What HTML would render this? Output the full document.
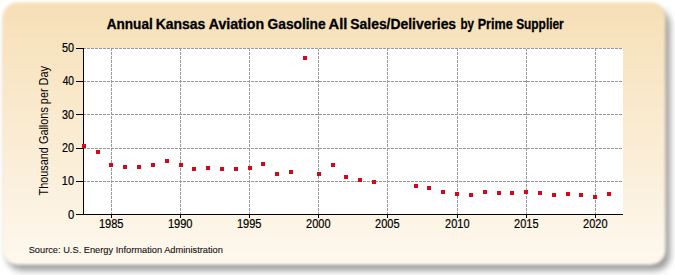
<!DOCTYPE html>
<html><head><meta charset="utf-8"><style>
html,body{margin:0;padding:0;background:#fff;width:675px;height:275px;overflow:hidden}
svg{display:block}
text{font-family:"Liberation Sans",sans-serif}
</style></head><body>
<svg width="675" height="275" viewBox="0 0 675 275">
<defs>
<linearGradient id="bg" x1="0" y1="0" x2="0" y2="1">
<stop offset="0" stop-color="#f6dfb6"/>
<stop offset="1" stop-color="#fef8ee"/>
</linearGradient>
<filter id="sh" x="-10%" y="-10%" width="120%" height="130%"><feGaussianBlur stdDeviation="3.5"/></filter>
<filter id="pb" x="-10%" y="-10%" width="120%" height="130%"><feGaussianBlur stdDeviation="1.8"/></filter>
</defs>
<rect x="7" y="9.5" width="663" height="261" rx="15" fill="#999" filter="url(#sh)"/>
<rect x="2.5" y="2.5" width="663" height="262.2" rx="15" fill="url(#bg)" filter="url(#pb)"/>
<rect x="83" y="48" width="540" height="166" fill="#fff"/>
<path d="M111.5 49V214 M180.5 49V214 M249.5 49V214 M318.5 49V214 M387.5 49V214 M457.5 49V214 M526.5 49V214 M595.5 49V214 M84 48.5H623 M84 81.5H623 M84 114.5H623 M84 148.5H623 M84 181.5H623" stroke="#999999" stroke-width="1" stroke-dasharray="3 1" stroke-dashoffset="1" fill="none"/>
<path d="M83.5 48V215 M83 214.5H623 M76 48.5H83 M76 81.5H83 M76 114.5H83 M76 148.5H83 M76 181.5H83 M76 214.5H83 M111.5 215V218 M180.5 215V218 M249.5 215V218 M318.5 215V218 M387.5 215V218 M457.5 215V218 M526.5 215V218 M595.5 215V218" stroke="#000" stroke-width="1" fill="none"/>
<rect x="82" y="144" width="4" height="4" fill="#d8061a"/>
<rect x="96" y="150" width="4" height="4" fill="#d8061a"/>
<rect x="109" y="163" width="4" height="4" fill="#d8061a"/>
<rect x="123" y="165" width="4" height="4" fill="#d8061a"/>
<rect x="137" y="165" width="4" height="4" fill="#d8061a"/>
<rect x="151" y="163" width="4" height="4" fill="#d8061a"/>
<rect x="165" y="159" width="4" height="4" fill="#d8061a"/>
<rect x="179" y="163" width="4" height="4" fill="#d8061a"/>
<rect x="192" y="167" width="4" height="4" fill="#d8061a"/>
<rect x="206" y="166" width="4" height="4" fill="#d8061a"/>
<rect x="220" y="167" width="4" height="4" fill="#d8061a"/>
<rect x="234" y="167" width="4" height="4" fill="#d8061a"/>
<rect x="248" y="166" width="4" height="4" fill="#d8061a"/>
<rect x="261" y="162" width="4" height="4" fill="#d8061a"/>
<rect x="275" y="172" width="4" height="4" fill="#d8061a"/>
<rect x="289" y="170" width="4" height="4" fill="#d8061a"/>
<rect x="303" y="56" width="4" height="4" fill="#d8061a"/>
<rect x="317" y="172" width="4" height="4" fill="#d8061a"/>
<rect x="331" y="163" width="4" height="4" fill="#d8061a"/>
<rect x="344" y="175" width="4" height="4" fill="#d8061a"/>
<rect x="358" y="178" width="4" height="4" fill="#d8061a"/>
<rect x="372" y="180" width="4" height="4" fill="#d8061a"/>
<rect x="414" y="184" width="4" height="4" fill="#d8061a"/>
<rect x="427" y="186" width="4" height="4" fill="#d8061a"/>
<rect x="441" y="190" width="4" height="4" fill="#d8061a"/>
<rect x="455" y="192" width="4" height="4" fill="#d8061a"/>
<rect x="469" y="193" width="4" height="4" fill="#d8061a"/>
<rect x="483" y="190" width="4" height="4" fill="#d8061a"/>
<rect x="497" y="191" width="4" height="4" fill="#d8061a"/>
<rect x="510" y="191" width="4" height="4" fill="#d8061a"/>
<rect x="524" y="190" width="4" height="4" fill="#d8061a"/>
<rect x="538" y="191" width="4" height="4" fill="#d8061a"/>
<rect x="552" y="193" width="4" height="4" fill="#d8061a"/>
<rect x="566" y="192" width="4" height="4" fill="#d8061a"/>
<rect x="579" y="193" width="4" height="4" fill="#d8061a"/>
<rect x="593" y="195" width="4" height="4" fill="#d8061a"/>
<rect x="607" y="192" width="4" height="4" fill="#d8061a"/>
<text x="61.94" y="52" textLength="12.06" lengthAdjust="spacingAndGlyphs" style="font-size:12px;font-weight:normal;fill:#000;stroke:#000;stroke-width:0.2px">50</text>
<text x="62.63" y="85" textLength="11.36" lengthAdjust="spacingAndGlyphs" style="font-size:12px;font-weight:normal;fill:#000;stroke:#000;stroke-width:0.2px">40</text>
<text x="61.98" y="119" textLength="12.01" lengthAdjust="spacingAndGlyphs" style="font-size:12px;font-weight:normal;fill:#000;stroke:#000;stroke-width:0.2px">30</text>
<text x="62.02" y="152" textLength="11.98" lengthAdjust="spacingAndGlyphs" style="font-size:12px;font-weight:normal;fill:#000;stroke:#000;stroke-width:0.2px">20</text>
<text x="61.82" y="185" textLength="12.17" lengthAdjust="spacingAndGlyphs" style="font-size:12px;font-weight:normal;fill:#000;stroke:#000;stroke-width:0.2px">10</text>
<text x="67.90" y="219" textLength="6.27" lengthAdjust="spacingAndGlyphs" style="font-size:12px;font-weight:normal;fill:#000;stroke:#000;stroke-width:0.2px">0</text>
<text x="98.92" y="228" textLength="24.60" lengthAdjust="spacingAndGlyphs" style="font-size:12px;font-weight:normal;fill:#000;stroke:#000;stroke-width:0.2px">1985</text>
<text x="167.92" y="228" textLength="24.56" lengthAdjust="spacingAndGlyphs" style="font-size:12px;font-weight:normal;fill:#000;stroke:#000;stroke-width:0.2px">1990</text>
<text x="236.92" y="228" textLength="24.60" lengthAdjust="spacingAndGlyphs" style="font-size:12px;font-weight:normal;fill:#000;stroke:#000;stroke-width:0.2px">1995</text>
<text x="306.11" y="228" textLength="24.37" lengthAdjust="spacingAndGlyphs" style="font-size:12px;font-weight:normal;fill:#000;stroke:#000;stroke-width:0.2px">2000</text>
<text x="375.10" y="228" textLength="24.41" lengthAdjust="spacingAndGlyphs" style="font-size:12px;font-weight:normal;fill:#000;stroke:#000;stroke-width:0.2px">2005</text>
<text x="445.11" y="228" textLength="24.37" lengthAdjust="spacingAndGlyphs" style="font-size:12px;font-weight:normal;fill:#000;stroke:#000;stroke-width:0.2px">2010</text>
<text x="514.10" y="228" textLength="24.41" lengthAdjust="spacingAndGlyphs" style="font-size:12px;font-weight:normal;fill:#000;stroke:#000;stroke-width:0.2px">2015</text>
<text x="583.11" y="228" textLength="24.37" lengthAdjust="spacingAndGlyphs" style="font-size:12px;font-weight:normal;fill:#000;stroke:#000;stroke-width:0.2px">2020</text>
<text x="106.75" y="29" textLength="45.99" lengthAdjust="spacingAndGlyphs" style="font-size:14px;font-weight:bold;fill:#000;stroke:#000;stroke-width:0.3px">Annual</text>
<text x="155.65" y="29" textLength="49.74" lengthAdjust="spacingAndGlyphs" style="font-size:14px;font-weight:bold;fill:#000;stroke:#000;stroke-width:0.3px">Kansas</text>
<text x="208.72" y="29" textLength="55.36" lengthAdjust="spacingAndGlyphs" style="font-size:14px;font-weight:bold;fill:#000;stroke:#000;stroke-width:0.3px">Aviation</text>
<text x="267.58" y="29" textLength="58.04" lengthAdjust="spacingAndGlyphs" style="font-size:14px;font-weight:bold;fill:#000;stroke:#000;stroke-width:0.3px">Gasoline</text>
<text x="328.60" y="29" textLength="18.81" lengthAdjust="spacingAndGlyphs" style="font-size:14px;font-weight:bold;fill:#000;stroke:#000;stroke-width:0.3px">All</text>
<text x="350.35" y="29" textLength="105.75" lengthAdjust="spacingAndGlyphs" style="font-size:14px;font-weight:bold;fill:#000;stroke:#000;stroke-width:0.3px">Sales/Deliveries</text>
<text x="460.39" y="29" textLength="13.52" lengthAdjust="spacingAndGlyphs" style="font-size:14px;font-weight:bold;fill:#000;stroke:#000;stroke-width:0.3px">by</text>
<text x="477.74" y="29" textLength="34.96" lengthAdjust="spacingAndGlyphs" style="font-size:14px;font-weight:bold;fill:#000;stroke:#000;stroke-width:0.3px">Prime</text>
<text x="516.14" y="29" textLength="47.62" lengthAdjust="spacingAndGlyphs" style="font-size:14px;font-weight:bold;fill:#000;stroke:#000;stroke-width:0.3px">Supplier</text>
<text x="28.65" y="252.5" textLength="194.29" lengthAdjust="spacingAndGlyphs" style="font-size:9.2px;font-weight:normal;fill:#111;stroke:#111;stroke-width:0.1px">Source: U.S. Energy Information Administration</text>
<text transform="translate(48,195.47) rotate(-90)" x="0" y="0" textLength="129.42" lengthAdjust="spacingAndGlyphs" style="font-size:12px;fill:#000">Thousand Gallons per Day</text>
</svg>
</body></html>
